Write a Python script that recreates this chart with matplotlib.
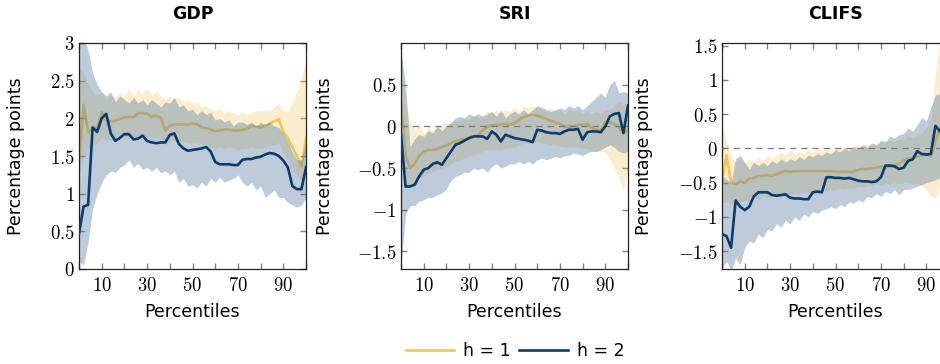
import numpy as np
import matplotlib.pyplot as plt
from matplotlib.ticker import FuncFormatter, MultipleLocator, FixedLocator
from matplotlib.lines import Line2D

plt.rcParams['font.family'] = 'DejaVu Sans'
plt.rcParams['mathtext.fontset'] = 'cm'

pct = np.arange(0, 101, 2)

# GDP
gdp_h1 = [1.42, 2.18, 1.82, 1.86, 1.88, 2.08, 1.97, 1.96, 1.97, 1.99, 2.01, 2.02, 2.01, 2.07, 2.07, 2.06,
          2.02, 2.04, 2.01, 1.84, 1.90, 1.92, 1.92, 1.92, 1.92, 1.93, 1.92, 1.88, 1.87, 1.85, 1.83, 1.84,
          1.85, 1.85, 1.84, 1.84, 1.85, 1.86, 1.90, 1.89, 1.88, 1.90, 1.93, 1.96, 1.99, 1.82, 1.74, 1.62,
          1.50, 1.36, 1.74]
gdp_h1_lo = [1.20, 1.50, 1.60, 1.62, 1.68, 1.75, 1.70, 1.72, 1.70, 1.75, 1.75, 1.73, 1.76, 1.75, 1.78, 1.75,
             1.72, 1.74, 1.72, 1.65, 1.70, 1.70, 1.68, 1.70, 1.68, 1.67, 1.68, 1.65, 1.66, 1.62, 1.60, 1.62,
             1.60, 1.62, 1.60, 1.58, 1.60, 1.60, 1.62, 1.60, 1.60, 1.62, 1.65, 1.65, 1.68, 1.55, 1.45, 1.30,
             1.25, 1.15, 1.30]
gdp_h1_hi = [2.68, 2.60, 2.45, 2.35, 2.30, 2.35, 2.25, 2.30, 2.28, 2.35, 2.30, 2.40, 2.30, 2.38, 2.33, 2.40,
             2.30, 2.36, 2.30, 2.25, 2.30, 2.25, 2.28, 2.22, 2.25, 2.20, 2.22, 2.15, 2.17, 2.12, 2.10, 2.12,
             2.08, 2.10, 2.07, 2.05, 2.08, 2.05, 2.08, 2.10, 2.10, 2.12, 2.10, 2.15, 2.20, 2.10, 2.10, 2.20,
             2.35, 2.55, 2.75]
gdp_h2 = [0.47, 0.83, 0.85, 1.88, 1.82, 2.00, 2.06, 1.80, 1.70, 1.74, 1.79, 1.79, 1.72, 1.73, 1.77, 1.70,
          1.68, 1.67, 1.68, 1.68, 1.78, 1.80, 1.66, 1.60, 1.57, 1.58, 1.59, 1.60, 1.62, 1.56, 1.42, 1.39,
          1.39, 1.39, 1.38, 1.38, 1.45, 1.46, 1.46, 1.48, 1.49, 1.52, 1.54, 1.53, 1.50, 1.44, 1.35, 1.10,
          1.06, 1.06, 1.35]
gdp_h2_lo = [0.10, 0.05, 0.35, 0.80, 1.00, 1.15, 1.25, 1.30, 1.28, 1.35, 1.38, 1.45, 1.35, 1.40, 1.32, 1.35,
             1.30, 1.35, 1.28, 1.30, 1.25, 1.30, 1.15, 1.20, 1.10, 1.12, 1.08, 1.15, 1.10, 1.20, 1.15, 1.22,
             1.15, 1.18, 1.20, 1.25, 1.15, 1.10, 1.15, 1.05, 1.10, 0.95, 1.00, 1.05, 0.95, 0.95, 0.88, 0.85,
             0.82, 0.85, 0.95]
gdp_h2_hi = [3.20, 3.10, 2.90, 2.60, 2.45, 2.35, 2.30, 2.35, 2.22, 2.30, 2.25, 2.20, 2.28, 2.20, 2.25, 2.18,
             2.25, 2.20, 2.15, 2.22, 2.20, 2.28, 2.15, 2.18, 2.10, 2.12, 2.05, 2.10, 2.05, 2.08, 1.98, 2.00,
             1.95, 1.98, 1.90, 1.95, 1.95, 1.92, 1.95, 1.90, 1.95, 1.92, 1.95, 1.90, 1.88, 1.80, 1.70, 1.55,
             1.45, 1.45, 1.70]

# SRI
sri_h1 = [0.28, -0.35, -0.50, -0.45, -0.36, -0.30, -0.28, -0.28, -0.27, -0.25, -0.23, -0.20, -0.18, -0.16,
          -0.15, -0.14, -0.13, -0.10, -0.05, 0.00, 0.01, 0.02, 0.02, 0.03, 0.02, 0.04, 0.08, 0.11, 0.13,
          0.14, 0.13, 0.11, 0.09, 0.07, 0.05, 0.03, 0.00, 0.00, 0.00, 0.02, 0.02, 0.03, -0.02, -0.04, -0.05,
          0.05, 0.05, 0.03, -0.02, -0.08, -0.05]
sri_h1_lo = [-0.30, -0.65, -0.72, -0.68, -0.62, -0.60, -0.55, -0.55, -0.52, -0.50, -0.48, -0.45, -0.42,
             -0.40, -0.38, -0.35, -0.34, -0.32, -0.30, -0.28, -0.28, -0.27, -0.28, -0.26, -0.25, -0.25,
             -0.22, -0.20, -0.20, -0.18, -0.18, -0.20, -0.20, -0.22, -0.22, -0.24, -0.25, -0.25, -0.25,
             -0.25, -0.26, -0.27, -0.28, -0.30, -0.30, -0.30, -0.40, -0.50, -0.60, -0.78, -0.50]
sri_h1_hi = [0.95, 0.25, 0.05, -0.05, 0.02, -0.10, 0.00, -0.05, 0.02, 0.00, 0.05, 0.02, 0.08, 0.05, 0.10,
             0.08, 0.15, 0.10, 0.15, 0.18, 0.15, 0.20, 0.15, 0.20, 0.18, 0.22, 0.18, 0.25, 0.22, 0.25, 0.22,
             0.25, 0.20, 0.22, 0.18, 0.20, 0.15, 0.20, 0.18, 0.20, 0.15, 0.20, 0.15, 0.18, 0.15, 0.20, 0.20,
             0.25, 0.30, 0.25, 0.30]
sri_h2 = [-0.10, -0.72, -0.72, -0.70, -0.60, -0.52, -0.50, -0.45, -0.43, -0.46, -0.38, -0.30, -0.22, -0.20,
          -0.17, -0.14, -0.12, -0.12, -0.12, -0.15, -0.06, -0.10, -0.18, -0.10, -0.12, -0.14, -0.15, -0.16,
          -0.17, -0.19, -0.04, -0.05, -0.07, -0.08, -0.08, -0.09, -0.06, -0.04, -0.04, -0.03, -0.16, -0.07,
          -0.06, -0.06, -0.07, 0.00, 0.12, 0.15, 0.16, -0.08, 0.25]
sri_h2_lo = [-1.70, -1.05, -0.95, -0.95, -0.90, -0.88, -0.85, -0.85, -0.82, -0.80, -0.75, -0.65, -0.60,
             -0.58, -0.55, -0.55, -0.50, -0.52, -0.50, -0.55, -0.48, -0.45, -0.50, -0.48, -0.45, -0.45,
             -0.42, -0.45, -0.42, -0.45, -0.40, -0.38, -0.40, -0.38, -0.36, -0.38, -0.35, -0.35, -0.32,
             -0.33, -0.35, -0.32, -0.30, -0.30, -0.28, -0.25, -0.22, -0.25, -0.30, -0.32, -0.30]
sri_h2_hi = [0.90, 0.50, -0.25, -0.15, -0.10, -0.12, -0.05, -0.08, 0.00, -0.05, 0.00, 0.05, 0.10, 0.12,
             0.10, 0.15, 0.12, 0.15, 0.12, 0.15, 0.18, 0.12, 0.20, 0.10, 0.15, 0.18, 0.15, 0.20, 0.15, 0.20,
             0.25, 0.22, 0.20, 0.18, 0.20, 0.22, 0.20, 0.25, 0.22, 0.25, 0.20, 0.25, 0.30, 0.35, 0.40, 0.35,
             0.50, 0.55, 0.40, 0.42, 0.40]

# CLIFS
clifs_h1 = [-0.50, -0.10, -0.50, -0.52, -0.48, -0.50, -0.44, -0.43, -0.40, -0.40, -0.39, -0.40, -0.38,
            -0.35, -0.33, -0.34, -0.33, -0.33, -0.33, -0.33, -0.33, -0.33, -0.33, -0.33, -0.33, -0.34,
            -0.34, -0.34, -0.34, -0.34, -0.31, -0.30, -0.30, -0.29, -0.28, -0.27, -0.27, -0.26, -0.25,
            -0.22, -0.18, -0.15, -0.14, -0.12, -0.10, -0.08, -0.12, 0.10, 0.30, 0.35, 0.38]
clifs_h1_lo = [-0.80, -0.78, -0.82, -0.78, -0.80, -0.75, -0.78, -0.72, -0.75, -0.70, -0.72, -0.70, -0.68,
               -0.70, -0.65, -0.67, -0.65, -0.66, -0.63, -0.65, -0.62, -0.63, -0.60, -0.62, -0.60, -0.60,
               -0.58, -0.60, -0.57, -0.58, -0.55, -0.57, -0.54, -0.55, -0.52, -0.54, -0.50, -0.52, -0.50,
               -0.52, -0.50, -0.50, -0.52, -0.50, -0.55, -0.60, -0.70, -0.72, -0.55, -0.45, -0.35]
clifs_h1_hi = [0.35, 0.10, -0.10, -0.20, -0.15, -0.22, -0.15, -0.20, -0.12, -0.18, -0.10, -0.15, -0.10,
               -0.05, -0.10, -0.02, -0.08, -0.05, -0.08, -0.02, -0.05, 0.00, -0.04, 0.00, -0.03, 0.02,
               0.00, 0.03, 0.00, 0.05, 0.02, 0.06, 0.05, 0.08, 0.06, 0.10, 0.08, 0.12, 0.10, 0.15, 0.12,
               0.18, 0.15, 0.20, 0.22, 0.30, 0.45, 1.10, 1.60, 1.60, 1.60]
clifs_h2 = [-1.25, -1.28, -1.45, -0.76, -0.85, -0.90, -0.85, -0.70, -0.64, -0.64, -0.64, -0.68, -0.69,
            -0.68, -0.67, -0.72, -0.73, -0.73, -0.74, -0.74, -0.64, -0.63, -0.64, -0.42, -0.42, -0.43,
            -0.43, -0.44, -0.43, -0.45, -0.47, -0.48, -0.48, -0.49, -0.48, -0.42, -0.25, -0.25, -0.26,
            -0.30, -0.28, -0.18, -0.16, -0.04, -0.08, -0.09, -0.08, 0.33, 0.25, 0.25, 0.22]
clifs_h2_lo = [-1.75, -1.65, -1.78, -1.60, -1.70, -1.45, -1.35, -1.38, -1.25, -1.30, -1.18, -1.20, -1.10,
               -1.15, -1.05, -1.10, -1.00, -1.05, -0.96, -1.00, -0.92, -0.95, -0.90, -0.88, -0.85, -0.88,
               -0.82, -0.85, -0.78, -0.80, -0.75, -0.78, -0.70, -0.72, -0.66, -0.70, -0.63, -0.66, -0.60,
               -0.68, -0.60, -0.60, -0.58, -0.55, -0.53, -0.50, -0.48, -0.46, -0.42, -0.38, -0.35]
clifs_h2_hi = [-0.40, -0.45, -0.50, -0.15, -0.10, -0.20, -0.30, -0.20, -0.25, -0.20, -0.25, -0.18, -0.22,
               -0.15, -0.20, -0.15, -0.18, -0.12, -0.16, -0.10, -0.12, -0.08, -0.10, -0.05, -0.08, -0.02,
               -0.05, 0.00, -0.03, 0.03, 0.00, 0.05, 0.02, 0.08, 0.05, 0.12, 0.10, 0.18, 0.15, 0.20, 0.22,
               0.30, 0.25, 0.35, 0.45, 0.40, 0.60, 0.78, 0.80, 0.80, 0.80]

titles = ['GDP', 'SRI', 'CLIFS']
ylims = [(0, 3), (-1.71, 1.0), (-1.76, 1.54)]
yticks = [[0, 0.5, 1, 1.5, 2, 2.5, 3], [-1.5, -1, -0.5, 0, 0.5], [-1.5, -1, -0.5, 0, 0.5, 1, 1.5]]
panels = [
    (gdp_h1, gdp_h1_lo, gdp_h1_hi, gdp_h2, gdp_h2_lo, gdp_h2_hi),
    (sri_h1, sri_h1_lo, sri_h1_hi, sri_h2, sri_h2_lo, sri_h2_hi),
    (clifs_h1, clifs_h1_lo, clifs_h1_hi, clifs_h2, clifs_h2_lo, clifs_h2_hi),
]

yellow = '#F2C45A'
blue = '#0B3C6B'
yellow_band = '#F2C45A'
blue_band = '#52789F'

W, H = 940, 364
lefts = [79, 401, 722]
ylabel_x = [-0.238, -0.293, -0.304]
ax_w, top, bottom = 227, 43, 269

fig = plt.figure(figsize=(W / 100, H / 100), dpi=100)
for i, (m1, lo1, hi1, m2, lo2, hi2) in enumerate(panels):
    ax = fig.add_axes([lefts[i] / W, (H - bottom) / H, ax_w / W, (bottom - top) / H])
    # yellow line sits under the bands, blue line on top
    ax.plot(pct, m1, color=yellow, lw=1.9, zorder=1)
    ax.fill_between(pct, lo1, hi1, color=yellow_band, alpha=0.3, lw=0, zorder=2)
    ax.fill_between(pct, lo2, hi2, color=blue_band, alpha=0.38, lw=0, zorder=2)
    ax.plot(pct, m2, color=blue, lw=1.9, zorder=4)
    if i > 0:
        ax.axhline(0, color='#7a7a7a', lw=0.9, ls=(0, (5, 4)), zorder=3)
    ax.set_xlim(0, 100)
    ax.set_ylim(*ylims[i])
    ax.xaxis.set_major_locator(FixedLocator([10, 30, 50, 70, 90]))
    ax.xaxis.set_minor_locator(MultipleLocator(10))
    ax.yaxis.set_major_locator(FixedLocator(yticks[i]))
    fmt = FuncFormatter(lambda v, _: f'${v:g}$')
    ax.xaxis.set_major_formatter(fmt)
    ax.yaxis.set_major_formatter(fmt)
    ax.tick_params(which='both', direction='in', top=True, right=True, color='#808080',
                   width=1, length=4.5, labelsize=13.5)
    ax.tick_params(axis='y', pad=3)
    ax.tick_params(axis='x', pad=5)
    for s in ax.spines.values():
        s.set_color('#222222')
        s.set_linewidth(0.9)
    ax.set_title(titles[i], fontsize=12.5, fontweight='bold', pad=17)
    ax.set_xlabel('Percentiles', fontsize=12.5, labelpad=6)
    ax.set_ylabel('Percentage points', fontsize=12.5)
    ax.yaxis.set_label_coords(ylabel_x[i], 0.5)

handles = [Line2D([], [], color=yellow, lw=1.9), Line2D([], [], color=blue, lw=1.9)]
fig.legend(handles, ['h = 1', 'h = 2'], loc='center', bbox_to_anchor=(515 / W, 13 / H), ncol=2,
           frameon=False, fontsize=12.5, handlelength=2.8, handletextpad=0.5, columnspacing=0.5)

fig.savefig('out.png', dpi=100)
